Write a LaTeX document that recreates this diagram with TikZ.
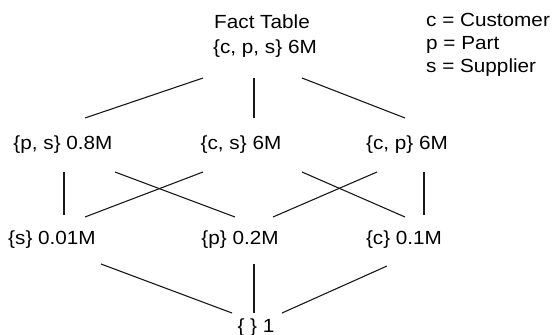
\documentclass[tikz,border=0pt]{standalone}
\usepackage{fontspec}
\setmainfont[FakeStretch=1.09]{Liberation Sans}
\begin{document}
\begin{tikzpicture}[x=1pt,y=-1pt,
  lbl/.style={anchor=base,inner sep=0pt,font=\fontsize{19}{22}\selectfont},
  leg/.style={anchor=base west,inner sep=0pt,font=\fontsize{19}{22}\selectfont},
  edge/.style={line width=1.1pt,black!90}]
\useasboundingbox (0,0) rectangle (555,335);
% nodes
\node[lbl] (ft) at (262,28) {Fact Table};
\node[lbl] (cps) at (265,53) {\{c, p, s\} 6M};
\node[leg] (l1) at (426,26) {c = Customer};
\node[leg] (l2) at (426,49) {p = Part};
\node[leg] (l3) at (426,72) {s = Supplier};
\node[lbl] (ps) at (63,149) {\{p, s\} 0.8M};
\node[lbl] (cs) at (241,149) {\{c, s\} 6M};
\node[lbl] (cp) at (407,149) {\{c, p\} 6M};
\node[lbl] (s) at (52,244) {\{s\} 0.01M};
\node[lbl] (p) at (240,244) {\{p\} 0.2M};
\node[lbl] (c) at (404,244) {\{c\} 0.1M};
\node[lbl] (e) at (256,332) {\{ \} 1};
% connector ends
\coordinate (t1) at (203,78);  \coordinate (ps1) at (85,118);
\coordinate (t2) at (254,78);  \coordinate (cs1) at (254,118);
\coordinate (t3) at (302,78);  \coordinate (cp1) at (405,118);
\coordinate (ps2) at (64,172);  \coordinate (s1) at (64,215);
\coordinate (ps3) at (115,172); \coordinate (p1) at (235,217);
\coordinate (cs2) at (203,172); \coordinate (s2) at (85,217);
\coordinate (cs3) at (302,172); \coordinate (c1) at (405,217);
\coordinate (cp2) at (377,172); \coordinate (p2) at (273,217);
\coordinate (cp3) at (424,172); \coordinate (c2) at (424,215);
\coordinate (s3) at (101,264);  \coordinate (e1) at (232,313);
\coordinate (p3) at (254,264);  \coordinate (e2) at (254,313);
\coordinate (c3) at (387,266);  \coordinate (e3) at (282,313);
% connectors
\draw[edge] (t1) -- (ps1);
\draw[edge] (t2) -- (cs1);
\draw[edge] (t3) -- (cp1);
\draw[edge] (ps2) -- (s1);
\draw[edge] (ps3) -- (p1);
\draw[edge] (cs2) -- (s2);
\draw[edge] (cs3) -- (c1);
\draw[edge] (cp2) -- (p2);
\draw[edge] (cp3) -- (c2);
\draw[edge] (s3) -- (e1);
\draw[edge] (p3) -- (e2);
\draw[edge] (c3) -- (e3);
\end{tikzpicture}
\end{document}
